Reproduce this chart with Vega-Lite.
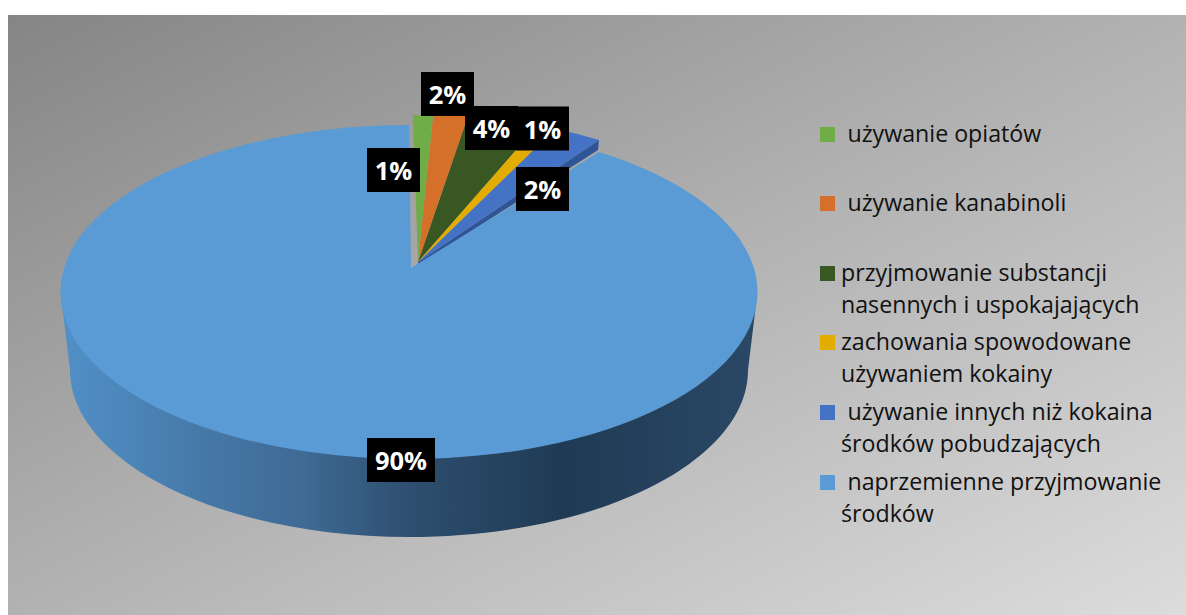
{
"$schema":"https://vega.github.io/schema/vega-lite/v6.json",
"autosize":{"type":"fit","contains":"padding"},
"width":1186,"height":615,"padding":0,"background":"#ffffff",
"config":{"view":{"stroke":null}},
"data":{"values":[
{"klucz":"opiaty","kategoria":"używanie opiatów","udzial":1,"etykieta":"1%"},
{"klucz":"kanabinole","kategoria":"używanie kanabinoli","udzial":2,"etykieta":"2%"},
{"klucz":"nasenne","kategoria":"przyjmowanie substancji\nnasennych i uspokajających","udzial":4,"etykieta":"4%"},
{"klucz":"kokaina","kategoria":"zachowania spowodowane\nużywaniem kokainy","udzial":1,"etykieta":"1%"},
{"klucz":"pobudzajace","kategoria":"używanie innych niż kokaina\nśrodków pobudzających","udzial":2,"etykieta":"2%"},
{"klucz":"naprzemienne","kategoria":"naprzemienne przyjmowanie\nśrodków","udzial":90,"etykieta":"90%"}
]},
"transform":[
{"calculate":"{'opiaty':393.5,'kanabinole':447.5,'nasenne':491.5,'kokaina':542.5,'pobudzajace':542.5,'naprzemienne':401}[datum.klucz]","as":"etykietaX"},
{"calculate":"{'opiaty':170,'kanabinole':94,'nasenne':128,'kokaina':128.5,'pobudzajace':189,'naprzemienne':460}[datum.klucz]","as":"etykietaY"},
{"calculate":"{'opiaty':134.5,'kanabinole':203.5,'nasenne':273.5,'kokaina':342.5,'pobudzajace':412.5,'naprzemienne':482.5}[datum.klucz]","as":"legendaY"},
{"calculate":"{'opiaty':847.5,'kanabinole':847.5,'nasenne':841,'kokaina':841,'pobudzajace':847.5,'naprzemienne':847.5}[datum.klucz]","as":"wierszX"},
{"calculate":"split(datum.kategoria,'\\n')[0]","as":"wiersz1"},
{"calculate":"split(datum.kategoria,'\\n')[1] || ''","as":"wiersz2"},
{"calculate":"datum.legendaY+32","as":"wiersz2Y"}
],
"resolve":{"scale":{"shape":"independent"}},
"layer":[
{"data":{"values":[{}]},"transform":[],
 "mark":{"type":"rect","fill":{"gradient":"linear","x1":0,"y1":0,"x2":1,"y2":1,"stops":[{"offset":0,"color":"#858585"},{"offset":0.5,"color":"#b2b2b2"},{"offset":1,"color":"#dcdcdc"}]}},
 "encoding":{
  "x":{"datum":8,"type":"quantitative","scale":{"domain":[0,1186],"nice":false,"zero":false},"axis":null},
  "x2":{"datum":1186},
  "y":{"datum":15,"type":"quantitative","scale":{"domain":[615,0],"nice":false,"zero":false},"axis":null},
  "y2":{"datum":615}}},
{"data":{"values":[{}]},"transform":[],
 "mark":{"type":"point","filled":true,"opacity":1,"size":4,"strokeWidth":0,
  "shape":"M-351,31 L-342,105 A339,167 0 0 0 336,105 L345,31 Z",
  "fill":{"gradient":"linear","x1":0,"y1":0,"x2":1,"y2":0,"stops":[{"offset":0,"color":"#5190c8"},{"offset":0.2,"color":"#4679a8"},{"offset":0.35,"color":"#3f6a94"},{"offset":0.5,"color":"#2e4f70"},{"offset":0.72,"color":"#1f3a54"},{"offset":1,"color":"#2a4866"}]}},
 "encoding":{"x":{"datum":412,"type":"quantitative","scale":{"domain":[0,1186],"nice":false,"zero":false},"axis":null},"y":{"datum":265,"type":"quantitative","scale":{"domain":[615,0],"nice":false,"zero":false},"axis":null}}},
{"data":{"values":[{}]},"transform":[],
 "mark":{"type":"point","filled":true,"opacity":1,"size":4,"strokeWidth":0,"color":"#2f5597","shape":"M6,-3 L187,-125 L186,-115 L6,0 Z"},
 "encoding":{"x":{"datum":412,"type":"quantitative","scale":{"domain":[0,1186],"nice":false,"zero":false},"axis":null},"y":{"datum":265,"type":"quantitative","scale":{"domain":[615,0],"nice":false,"zero":false},"axis":null}}},
{"mark":{"type":"point","filled":true,"opacity":1,"size":4,"strokeWidth":0},
 "encoding":{
  "x":{"datum":412,"type":"quantitative","scale":{"domain":[0,1186],"nice":false,"zero":false},"axis":null},"y":{"datum":265,"type":"quantitative","scale":{"domain":[615,0],"nice":false,"zero":false},"axis":null},
  "order":{"field":"udzial","type":"quantitative","sort":"descending"},
  "detail":{"field":"udzial","type":"quantitative"},
  "color":{"field":"klucz","type":"nominal","legend":null,"scale":{"domain":["opiaty","kanabinole","nasenne","kokaina","pobudzajace","naprzemienne"],"range":["#70ad47","#d4702a","#385723","#e2ac00","#4472c4","#5b9bd5"]}},
  "shape":{"field":"klucz","type":"nominal","legend":null,"scale":{"domain":["opiaty","kanabinole","nasenne","kokaina","pobudzajace","naprzemienne"],"range":[
   "M6,-3 L1,-150 A348,167 0 0 1 21,-149 Z",
   "M6,-3 L21,-149 A348,167 0 0 1 56,-149 Z",
   "M6,-3 L56,-149 A348,167 0 0 1 126,-140 Z",
   "M6,-3 L126,-140 A348,167 0 0 1 143,-136 Z",
   "M6,-3 L143,-136 A348,167 0 0 1 187,-125 Z",
   "M-1,3 L187,-113 A348.5,167 0 1 1 -3,-140 Z"]}}}},
{"mark":{"type":"point","filled":true,"opacity":1,"size":4,"strokeWidth":0,"color":"#000000"},
 "encoding":{
  "x":{"field":"etykietaX","type":"quantitative","scale":{"domain":[0,1186],"nice":false,"zero":false},"axis":null},"y":{"field":"etykietaY","type":"quantitative","scale":{"domain":[615,0],"nice":false,"zero":false},"axis":null},
  "shape":{"field":"etykieta","type":"nominal","legend":null,"scale":{"domain":["1%","2%","4%","90%"],"range":["M-26.5,-22 L26.5,-22 L26.5,22 L-26.5,22 Z","M-26.5,-22 L26.5,-22 L26.5,22 L-26.5,22 Z","M-26.5,-22 L26.5,-22 L26.5,22 L-26.5,22 Z","M-34,-22 L34,-22 L34,22 L-34,22 Z"]}}}},
{"mark":{"type":"text","font":"Open Sans","fontSize":25.5,"fontWeight":"bold","color":"#ffffff","align":"center","baseline":"middle","dy":2},
 "encoding":{
  "x":{"field":"etykietaX","type":"quantitative","scale":{"domain":[0,1186],"nice":false,"zero":false},"axis":null},"y":{"field":"etykietaY","type":"quantitative","scale":{"domain":[615,0],"nice":false,"zero":false},"axis":null},
  "text":{"field":"etykieta","type":"nominal"}}},
{"mark":{"type":"point","shape":"square","filled":true,"opacity":1,"size":225,"strokeWidth":0},
 "encoding":{
  "x":{"datum":827.5,"type":"quantitative","scale":{"domain":[0,1186],"nice":false,"zero":false},"axis":null},"y":{"field":"legendaY","type":"quantitative","scale":{"domain":[615,0],"nice":false,"zero":false},"axis":null},
  "color":{"field":"klucz","type":"nominal","legend":null}}},
{"mark":{"type":"text","font":"Open Sans","fontSize":23.2,"color":"#111111","align":"left","baseline":"alphabetic","dy":7},
 "encoding":{
  "x":{"field":"wierszX","type":"quantitative","scale":{"domain":[0,1186],"nice":false,"zero":false},"axis":null},"y":{"field":"legendaY","type":"quantitative","scale":{"domain":[615,0],"nice":false,"zero":false},"axis":null},
  "text":{"field":"wiersz1","type":"nominal"}}},
{"mark":{"type":"text","font":"Open Sans","fontSize":23.2,"color":"#111111","align":"left","baseline":"alphabetic","dy":7},
 "encoding":{
  "x":{"datum":841,"type":"quantitative","scale":{"domain":[0,1186],"nice":false,"zero":false},"axis":null},"y":{"field":"wiersz2Y","type":"quantitative","scale":{"domain":[615,0],"nice":false,"zero":false},"axis":null},
  "text":{"field":"wiersz2","type":"nominal"}}}
]
}
